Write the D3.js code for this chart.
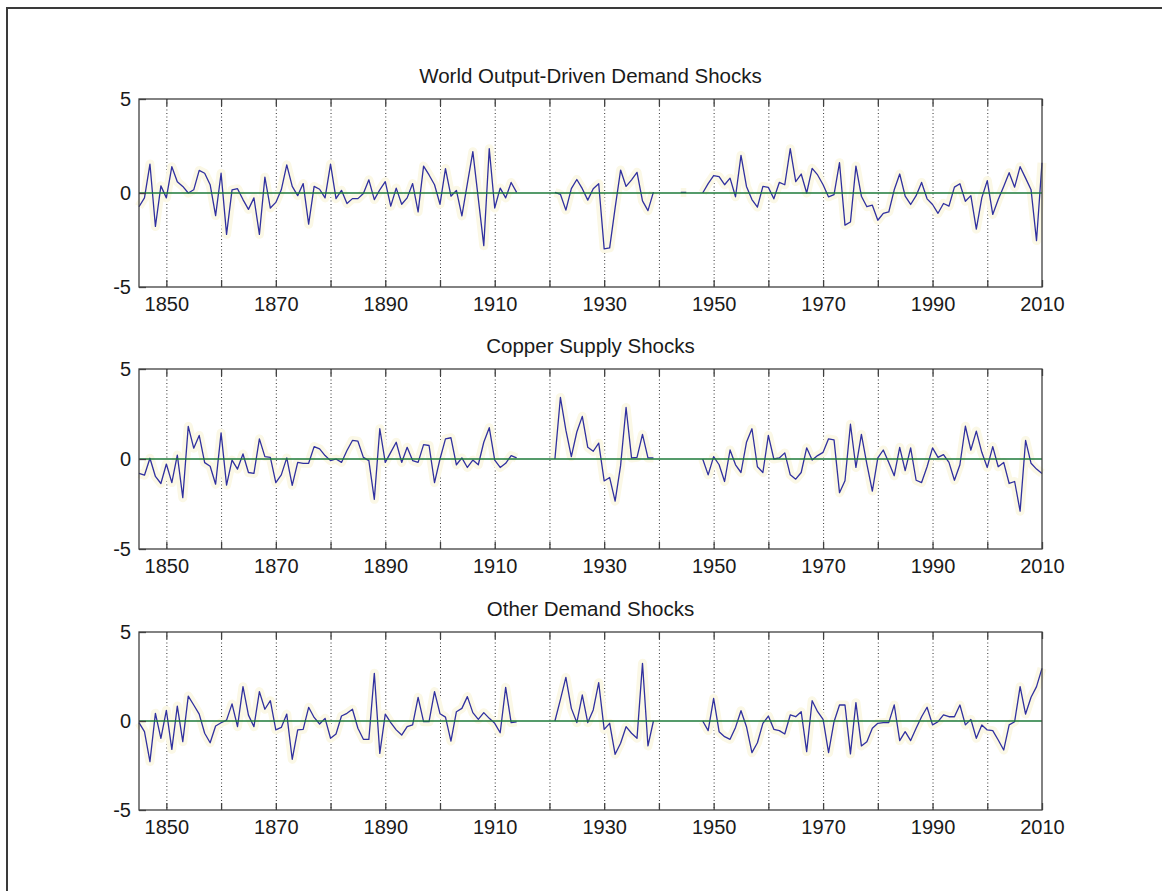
<!DOCTYPE html>
<html>
<head>
<meta charset="utf-8">
<script src="https://cdn.jsdelivr.net/npm/d3@7"></script>
<style>
  body { margin: 0; background: #fff; }
  svg { display: block; }
  text { font-family: "Liberation Sans", Arial, sans-serif; fill: #1a1a1a; }
</style>
</head>
<body>
<div class="chart"></div>
<script>
const width = 1162;
const height = 891;

// x from 1845 to 2010, one value per year, null = no data
const firstYear = 1845;
const lastYear = 2010;

const titles = [
  'World Output-Driven Demand Shocks',
  'Copper Supply Shocks',
  'Other Demand Shocks'
];

const worldDemand = [
  -0.73, -0.26, 1.54, -1.78, 0.38, -0.26, 1.40, 0.60, 0.35, 0.00,   // 1845
  0.17, 1.20, 1.05, 0.44, -1.20, 1.05, -2.20, 0.17, 0.23, -0.35,    // 1855
  -0.87, -0.26, -2.20, 0.84, -0.80, -0.50, 0.17, 1.50, 0.35, -0.14, // 1865
  0.50, -1.66, 0.35, 0.20, -0.26, 1.54, -0.30, 0.14, -0.56, -0.30,  // 1875
  -0.30, -0.03, 0.70, -0.35, 0.17, 0.60, -0.70, 0.26, -0.60, -0.26, // 1885
  0.50, -1.00, 1.43, 0.96, 0.44, -0.60, 1.30, -0.17, 0.14, -1.22,   // 1895
  0.50, 2.20, -0.30, -2.80, 2.36, -0.80, 0.26, -0.26, 0.56, 0.03,   // 1905
  null, null, null, null, null, null, 0.03, -0.07, -0.91, 0.23,     // 1915
  0.72, 0.23, -0.38, 0.23, 0.49, -2.97, -2.92, -0.79, 1.22, 0.35,   // 1925
  0.70, 1.10, -0.42, -0.94, 0.05, null, null, null, null, 0.03,     // 1935
  0.03, null, null, 0.00, 0.50, 0.93, 0.87, 0.44, 0.79, -0.20,      // 1945
  2.00, 0.35, -0.35, -0.75, 0.35, 0.30, -0.31, 0.56, 0.44, 2.36,    // 1955
  0.61, 1.01, 0.00, 1.31, 0.96, 0.44, -0.21, -0.09, 1.61, -1.71,    // 1965
  -1.54, 1.43, -0.17, -0.73, -0.65, -1.45, -1.08, -1.01, 0.17, 1.01, // 1975
  -0.17, -0.61, -0.14, 0.56, -0.31, -0.61, -1.08, -0.56, -0.70, 0.31, // 1985
  0.49, -0.44, -0.14, -1.92, -0.26, 0.66, -1.14, -0.35, 0.35, 1.08, // 1995
  0.31, 1.40, 0.79, 0.17, -2.53, 1.61                                // 2005
];

const copperSupply = [
  -0.80, -0.90, 0.04, -0.97, -1.36, -0.28, -1.31, 0.22, -2.15, 1.81, // 1845
  0.60, 1.31, -0.20, -0.40, -1.40, 1.45, -1.45, -0.06, -0.56, 0.28,  // 1855
  -0.75, -0.80, 1.12, 0.13, 0.09, -1.31, -0.88, 0.06, -1.46, -0.19,  // 1865
  -0.24, -0.24, 0.69, 0.56, 0.19, -0.09, 0.00, -0.19, 0.47, 1.03,    // 1875
  0.99, 0.09, -0.09, -2.24, 1.68, -0.19, 0.37, 0.93, -0.19, 0.65,    // 1885
  -0.09, -0.19, 0.80, 0.75, -1.31, 0.00, 1.12, 1.18, -0.32, 0.06,    // 1895
  -0.47, -0.06, -0.32, 0.93, 1.74, -0.06, -0.47, -0.24, 0.19, 0.06,  // 1905
  null, null, null, null, null, null, 0.00, 3.42, 1.60, 0.13,        // 1915
  1.50, 2.37, 0.65, 0.43, 0.88, -1.22, -1.03, -2.34, -0.37, 2.86,    // 1925
  0.06, 0.09, 1.37, 0.06, 0.06, null, null, null, null, null,        // 1935
  null, null, null, 0.00, -0.88, 0.13, -0.32, -1.25, 0.50, -0.32,    // 1945
  -0.75, 0.93, 1.68, -0.43, -0.75, 1.31, 0.00, 0.06, 0.34, -0.88,    // 1955
  -1.12, -0.75, 0.62, -0.06, 0.19, 0.37, 1.12, 1.06, -1.87, -1.21,   // 1965
  1.93, -0.47, 1.37, -0.28, -1.78, 0.06, 0.50, -0.19, -0.93, 0.65,   // 1975
  -0.65, 0.62, -1.18, -1.31, -0.43, 0.62, 0.09, 0.24, -0.19, -1.18,  // 1985
  -0.32, 1.82, 0.50, 1.55, 0.37, -0.47, 0.69, -0.43, -0.19, -1.36,   // 1995
  -1.25, -2.90, 1.03, -0.24, -0.56, -0.80                            // 2005
];

const otherDemand = [
  -0.09, -0.60, -2.28, 0.43, -0.97, 0.60, -1.59, 0.84, -1.16, 1.40,  // 1845
  0.90, 0.39, -0.69, -1.22, -0.28, -0.10, 0.05, 0.96, -0.32, 1.93,   // 1855
  0.33, -0.32, 1.65, 0.66, 1.14, -0.50, -0.36, 0.39, -2.15, -0.50,   // 1865
  -0.47, 0.77, 0.20, -0.17, 0.15, -0.97, -0.73, 0.28, 0.43, 0.66,    // 1875
  -0.41, -1.03, -1.03, 2.68, -1.82, 0.39, -0.09, -0.50, -0.79, -0.32, // 1885
  -0.22, 1.33, -0.04, -0.04, 1.65, 0.41, 0.22, -1.13, 0.52, 0.71,    // 1895
  1.37, 0.47, 0.09, 0.47, 0.15, -0.13, -0.66, 1.89, -0.09, -0.05,    // 1905
  null, null, null, null, null, null, 0.00, 1.20, 2.45, 0.71,        // 1915
  -0.09, 1.46, -0.09, 0.62, 2.15, -0.47, -0.13, -1.87, -1.25, -0.32, // 1925
  -0.69, -0.97, 3.24, -1.40, 0.00, null, null, null, null, null,     // 1935
  null, null, null, 0.00, -0.54, 1.27, -0.60, -0.88, -1.03, -0.36,   // 1945
  0.58, -0.32, -1.78, -1.22, -0.13, 0.28, -0.47, -0.54, -0.73, 0.34, // 1955
  0.24, 0.52, -1.72, 1.14, 0.52, 0.09, -1.78, -0.04, 0.90, 0.90,     // 1965
  -1.85, 1.03, -1.40, -1.16, -0.41, -0.13, -0.09, -0.09, 0.90, -1.10, // 1975
  -0.60, -1.10, -0.41, 0.24, 0.77, -0.22, -0.04, 0.34, 0.24, 0.24,   // 1985
  0.90, -0.22, 0.09, -0.97, -0.22, -0.50, -0.54, -1.07, -1.63, -0.22, // 1995
  -0.04, 1.93, 0.39, 1.33, 1.93, 2.96                                // 2005
];

const gridYears = [1850, 1860, 1870, 1880, 1890, 1900, 1910, 1920, 1930, 1940, 1950, 1960, 1970, 1980, 1990, 2000];
const tickYears = [1850, 1860, 1870, 1880, 1890, 1900, 1910, 1920, 1930, 1940, 1950, 1960, 1970, 1980, 1990, 2000, 2010];
const labelYears = [1850, 1870, 1890, 1910, 1930, 1950, 1970, 1990, 2010];
const yTicks = [-5, 0, 5];

const seriesList = [worldDemand, copperSupply, otherDemand];

// panel frames (top / bottom in px)
const panelBox = [
  {top: 99, bottom: 287},
  {top: 369, bottom: 549},
  {top: 632, bottom: 810}
];

const x = d3.scaleLinear()
  .domain([firstYear, lastYear])
  .range([139, 1042]);

const svg = d3.select('.chart').append('svg')
  .attr('width', width)
  .attr('height', height);

// figure frame (only left and top edges are inside the picture)
svg.append('path')
  .attr('d', `M7 ${height} V8 H${width}`)
  .style('fill', 'none')
  .style('stroke', '#3a3a3a')
  .style('stroke-width', 2);

seriesList.forEach((values, i) => {
  const box = panelBox[i];
  const y = d3.scaleLinear()
    .domain([-5, 5])
    .range([box.bottom, box.top]);

  const data = values.map((v, k) => ({year: firstYear + k, v: v}));

  const g = svg.append('g').attr('class', 'panel');

  // dotted vertical grid
  g.selectAll('.grid')
    .data(gridYears)
    .enter().append('line')
      .attr('class', 'grid')
      .attr('x1', d => x(d) + 0.5)
      .attr('x2', d => x(d) + 0.5)
      .attr('y1', box.top)
      .attr('y2', box.bottom)
      .style('stroke', '#333')
      .style('stroke-width', 1)
      .style('stroke-dasharray', '1,2.5');

  const line = d3.line()
    .defined(d => d.v !== null)
    .x(d => x(d.year))
    .y(d => y(d.v));

  // soft halo like the original print
  g.append('path')
    .attr('d', line(data))
    .style('fill', 'none')
    .style('stroke', '#fbf8e6')
    .style('stroke-width', 9)
    .style('stroke-linejoin', 'round');

  g.append('path')
    .attr('d', line(data))
    .style('fill', 'none')
    .style('stroke', '#30309f')
    .style('stroke-width', 1.3)
    .style('stroke-linejoin', 'round');

  // zero line
  g.append('line')
    .attr('x1', x(firstYear))
    .attr('x2', x(lastYear))
    .attr('y1', y(0))
    .attr('y2', y(0))
    .style('stroke', '#1d7a3a')
    .style('stroke-width', 1.6);

  g.append('rect')
    .attr('x', x.range()[0])
    .attr('y', box.top)
    .attr('width', x.range()[1] - x.range()[0])
    .attr('height', box.bottom - box.top)
    .style('fill', 'none')
    .style('stroke', '#404040')
    .style('stroke-width', 1.3);

  const xAxis = d3.axisBottom(x)
    .tickValues(tickYears)
    .tickSize(-7)
    .tickSizeOuter(0)
    .tickPadding(10)
    .tickFormat(d => labelYears.includes(d) ? String(d) : '');

  const gX = g.append('g')
    .attr('transform', `translate(0, ${box.bottom})`)
    .call(xAxis);

  const gXTop = g.append('g')
    .attr('transform', `translate(0, ${box.top})`)
    .call(d3.axisTop(x).tickValues(tickYears).tickSize(-7).tickSizeOuter(0).tickFormat(''));

  const gY = g.append('g')
    .attr('transform', `translate(${x.range()[0]}, 0)`)
    .call(d3.axisLeft(y)
      .tickValues(yTicks)
      .tickSize(-7)
      .tickSizeOuter(0)
      .tickPadding(8)
      .tickFormat(d => String(d)));

  [gX, gXTop, gY].forEach(a => {
    a.select('.domain').remove();
    a.selectAll('line').style('stroke', '#404040').style('stroke-width', 1.3);
    a.selectAll('text')
      .style('font-size', '20px')
      .style('font-family', '"Liberation Sans", Arial, sans-serif')
      .style('fill', '#1a1a1a');
  });

  g.append('text')
    .attr('x', (x.range()[0] + x.range()[1]) / 2)
    .attr('y', box.top - 16)
    .attr('text-anchor', 'middle')
    .style('font-size', '20.5px')
    .text(titles[i]);
});
</script>
</body>
</html>
